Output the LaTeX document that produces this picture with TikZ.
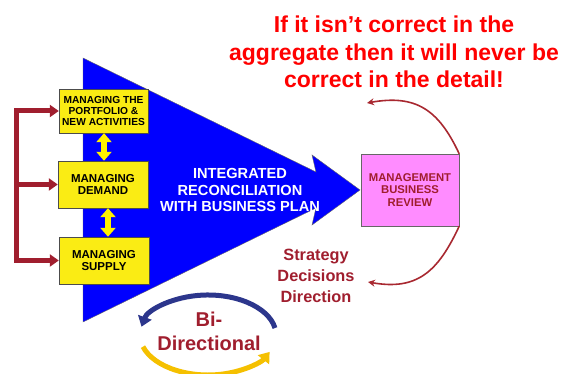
\documentclass[tikz,border=0pt]{standalone}
\usepackage{fontspec}
\setmainfont{Liberation Sans}
\usetikzlibrary{arrows.meta}
\definecolor{brickred}{RGB}{160,30,46}
\definecolor{funnelblue}{RGB}{0,0,255}
\definecolor{boxyellow}{RGB}{250,236,20}
\definecolor{reviewpink}{RGB}{255,140,255}
\definecolor{navyarc}{RGB}{44,54,140}
\definecolor{goldarc}{RGB}{245,192,0}
\definecolor{looparc}{RGB}{168,40,48}

\begin{document}
\begin{tikzpicture}
  [x=1pt,y=1pt,
   process/.style={draw=black!70,fill=boxyellow,minimum width=90pt,minimum height=47pt,
     inner sep=1pt,align=center,font=\bfseries\fontsize{11.5}{12}\selectfont},
   review/.style={draw=black!60,fill=reviewpink,minimum width=98pt,minimum height=72pt,
     align=center,text=brickred,font=\bfseries\fontsize{11.3}{12.5}\selectfont},
   bracket/.style={brickred,line width=5pt},
   feedback/.style={looparc,line width=1.6pt,-{Stealth[length=7pt,width=7pt]}},
   linkarrow/.style={yellow,line width=6pt,{Triangle[width=15pt,length=9pt]}-{Triangle[width=15pt,length=9pt]}},
   remark/.style={align=center,text=brickred,font=\bfseries\fontsize{16.3}{21}\selectfont}]

  \useasboundingbox (0,0) rectangle (566,374);

  \draw[draw=black!60,fill=funnelblue]
    (83,316) -- (316,202) -- (312,219) -- (360,184) -- (312,149) -- (316,166) -- (83,52) -- cycle;

  \node[align=center,text=white,font=\bfseries\fontsize{14.6}{16.5}\selectfont] (integrated) at (240,184)
    {INTEGRATED\\RECONCILIATION\\WITH BUSINESS PLAN};

  \node[process,minimum width=89pt,minimum height=44pt,font=\bfseries\fontsize{10.2}{11}\selectfont]
    (portfolio) at (103.5,263) {MANAGING THE\\PORTFOLIO \&\\NEW ACTIVITIES};
  \node[process] (demand) at (103,189.5) {MANAGING\\DEMAND};
  \node[process] (supply) at (104,113.5) {MANAGING\\SUPPLY};

  \node[review] (mbr) at (410,184) {MANAGEMENT\\BUSINESS\\REVIEW};

  \draw[linkarrow] ([xshift=0.5pt]portfolio.south) -- ([xshift=1pt]demand.north);
  \draw[linkarrow] ([xshift=5pt]demand.south) -- ([xshift=4pt]supply.north);

  \coordinate (btop) at (16,263);
  \coordinate (bmid) at (16,189.5);
  \coordinate (bbot) at (16,113.5);
  \draw[bracket,line cap=rect] (btop) -- (bbot);
  \foreach \from/\to in {btop/portfolio,bmid/demand,bbot/supply}
    \draw[bracket,-{Triangle[width=12pt,length=9pt]}] (\from) -- (\to.west);

  \coordinate (topend) at (367,271);
  \coordinate (botend) at (368,92);
  \draw[feedback] (mbr.north east) to[out=115,in=10,looseness=1.2] (topend);
  \draw[feedback] (mbr.south east) to[out=-115,in=-10,looseness=1.2] (botend);

  \node[align=center,text=red,font=\bfseries\fontsize{23}{27.5}\selectfont] (motto) at (394,322)
    {If it isn’t correct in the\\aggregate then it will never be\\correct in the detail!};

  \node[remark] (decisions) at (316,98) {Strategy\\Decisions\\Direction};

  \coordinate (bicentre) at (208,39);
  \draw[navyarc,line width=5pt,-{Triangle[width=14pt,length=10pt]}]
    ([shift={(10:68 and 40)}]bicentre) arc[start angle=10,end angle=168,x radius=68,y radius=40];
  \draw[goldarc,line width=5pt,-{Triangle[width=14pt,length=10pt]}]
    ([shift={(197:68 and 40)}]bicentre) arc[start angle=197,end angle=335,x radius=68,y radius=40];

  \node[remark,font=\bfseries\fontsize{20}{24}\selectfont] (bidir) at (209,43) {Bi-\\Directional};
\end{tikzpicture}
\end{document}
